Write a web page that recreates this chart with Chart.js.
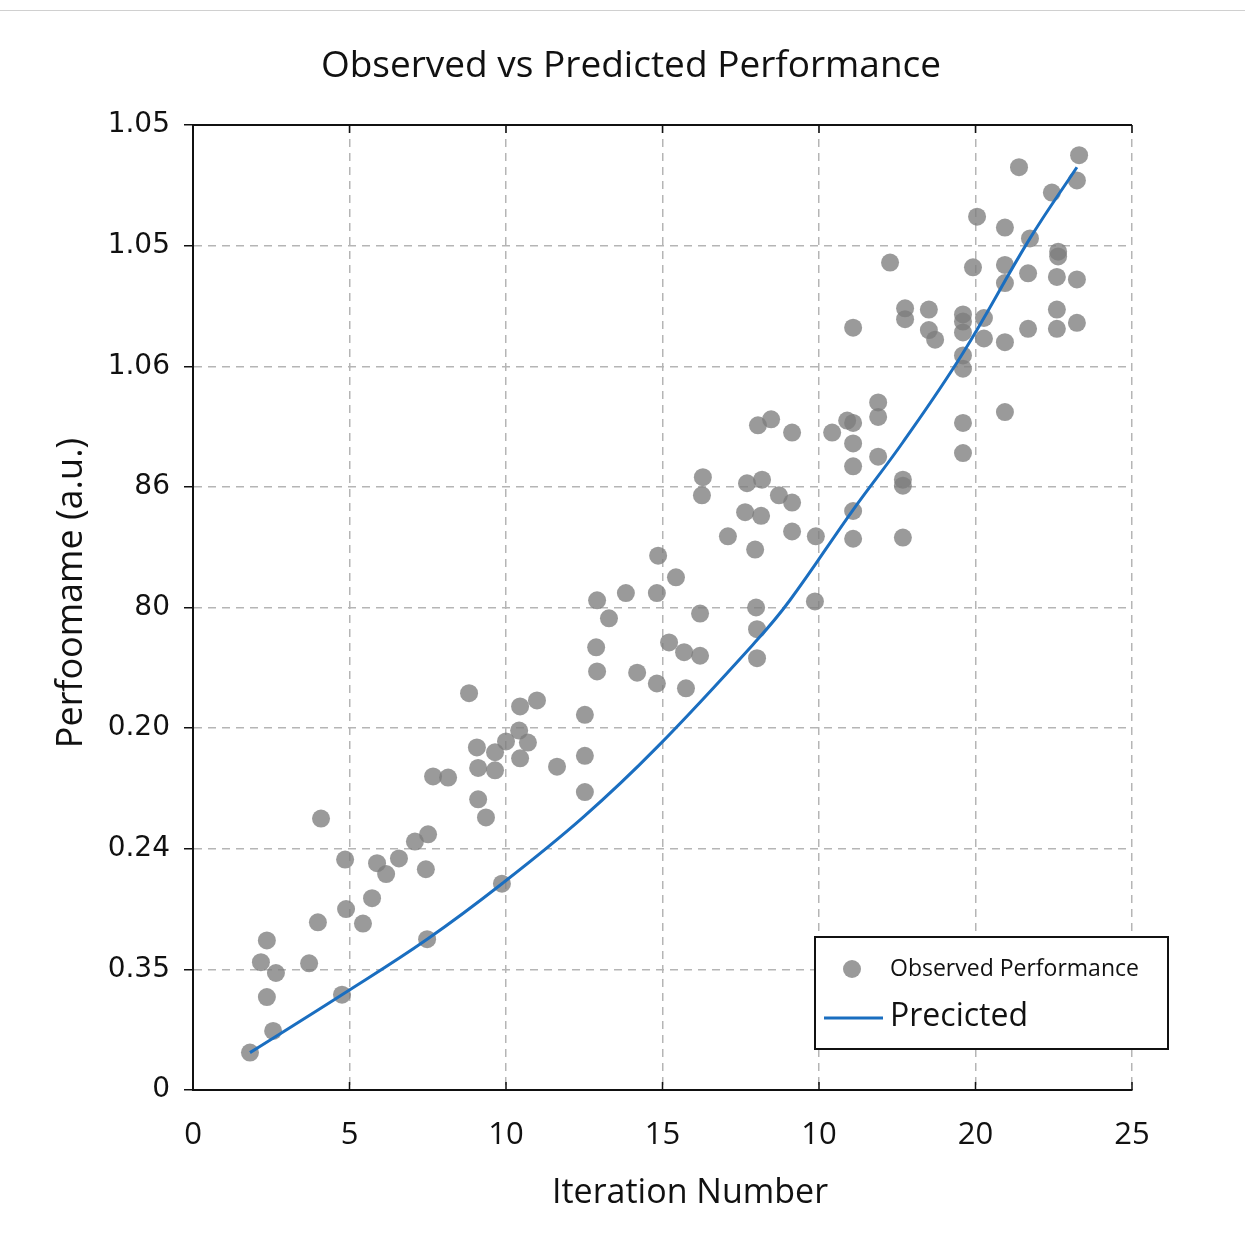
<!DOCTYPE html>
<html>
<head>
<meta charset="utf-8">
<title>Observed vs Predicted Performance</title>
<script src="https://cdn.jsdelivr.net/npm/chart.js@4"></script>
<style>
    html, body { margin: 0; padding: 0; background: #ffffff; }
    #wrap { position: relative; width: 1245px; height: 1252px; }
    #topRule { position: absolute; left: 0; right: 0; top: 10px; border-top: 1px solid #d0d0d0; }
</style>
</head>
<body>
<div id="wrap">
    <div id="topRule"></div>
    <canvas id="perf-chart"></canvas>
</div>
<script>
// Tick labels, bottom-to-top for y, left-to-right for x
const yTickLabels = ['0', '0.35', '0.24', '0.20', '80', '86', '1.06', '1.05', '1.05'];
const xTickLabels = ['0', '5', '10', '15', '10', '20', '25'];

// Observed performance (scatter)
const observedX = [
    1.82, 2.56, 2.36, 2.17, 2.65, 2.36, 3.71, 3.99, 4.76, 4.89,
    5.43, 5.72, 4.86, 5.88, 6.17, 6.58, 7.09, 7.51, 7.44, 7.48,
    4.09, 7.67, 8.15, 8.82, 9.07, 9.11, 9.65, 9.65, 9.11, 9.36,
    9.87, 10.00, 10.45, 10.99, 10.42, 10.70, 10.45, 11.63, 12.52, 12.52,
    12.52, 13.29, 12.88, 12.91, 14.19, 14.82, 15.75, 15.21, 15.69, 16.20,
    16.20, 17.99, 18.02, 18.02, 19.87, 18.05, 18.47, 19.14, 16.29, 16.26,
    17.70, 18.18, 18.72, 19.14, 17.64, 18.15, 17.09, 17.96, 19.14, 19.90,
    14.86, 15.43, 12.91, 13.83, 14.82, 28.31, 26.39, 28.24, 27.44, 25.05,
    25.94, 26.74, 22.27, 24.92, 25.94, 27.64, 27.64, 26.68, 27.60, 28.24,
    25.94, 22.75, 22.75, 23.51, 23.51, 23.71, 24.60, 24.60, 24.60, 25.27,
    25.27, 25.94, 26.68, 27.60, 27.60, 28.24, 21.09, 24.60, 24.60, 25.94,
    24.60, 24.60, 21.89, 21.89, 20.42, 20.90, 21.09, 21.09, 21.09, 21.89,
    22.68, 22.68, 21.09, 21.09, 22.68
];
const observedY = [
    0.31, 0.49, 0.77, 1.06, 0.97, 1.24, 1.05, 1.39, 0.79, 1.50,
    1.38, 1.59, 1.91, 1.88, 1.79, 1.92, 2.06, 2.12, 1.83, 1.25,
    2.25, 2.60, 2.59, 3.29, 2.84, 2.67, 2.80, 2.65, 2.41, 2.26,
    1.71, 2.89, 3.18, 3.23, 2.98, 2.88, 2.75, 2.68, 3.11, 2.77,
    2.47, 3.91, 3.67, 3.47, 3.46, 3.37, 3.33, 3.71, 3.63, 3.60,
    3.95, 4.00, 3.82, 3.58, 4.05, 5.51, 5.56, 5.45, 5.08, 4.93,
    5.03, 5.06, 4.93, 4.87, 4.79, 4.76, 4.59, 4.48, 4.63, 4.59,
    4.43, 4.25, 4.06, 4.12, 4.12, 7.75, 7.65, 7.54, 7.44, 7.24,
    7.15, 7.06, 6.86, 6.82, 6.84, 6.95, 6.91, 6.77, 6.74, 6.72,
    6.69, 6.48, 6.39, 6.47, 6.30, 6.22, 6.43, 6.37, 6.28, 6.40,
    6.23, 6.20, 6.31, 6.47, 6.31, 6.36, 6.32, 6.09, 5.98, 5.62,
    5.53, 5.28, 5.70, 5.58, 5.45, 5.55, 5.53, 5.36, 5.17, 5.25,
    5.06, 5.01, 4.80, 4.57, 4.58
];

// Predicted curve
const predictedX = [1.82, 4.76, 7.48, 9.87, 12.46, 14.82, 18.02, 19.07, 21.09, 22.68, 24.60, 26.74, 28.24];
const predictedY = [0.31, 0.79, 1.25, 1.71, 2.26, 2.84, 3.73, 4.06, 4.81, 5.37, 6.11, 7.06, 7.65];

const DOT_COLOR = 'rgba(125, 125, 125, 0.78)';
const LINE_COLOR = '#1a6ec0';
const GRID_COLOR = '#b5b5b5';

const observedPoints = observedX.map((x, i) => ({ x: x, y: observedY[i] }));
const predictedPoints = predictedX.map((x, i) => ({ x: x, y: predictedY[i] }));

// Titles, top frame edge, inner x ticks and the boxed legend
const decorations = {
    id: 'decorations',
    afterDraw(chart) {
        const ctx = chart.ctx;
        const area = chart.chartArea;
        const xScale = chart.scales.x;

        ctx.save();
        ctx.fillStyle = '#111';
        ctx.textAlign = 'center';
        ctx.textBaseline = 'middle';

        ctx.font = '37px "Open Sans"';
        ctx.fillText('Observed vs Predicted Performance', 631, 66);

        ctx.font = '34px "Open Sans"';
        ctx.fillText('Iteration Number', 690, 1193);

        ctx.save();
        ctx.translate(72, 593);
        ctx.rotate(-Math.PI / 2);
        ctx.font = '36px "Open Sans"';
        ctx.fillText('Perfoomame (a.u.)', 0, 0);
        ctx.restore();

        // top frame edge
        ctx.strokeStyle = '#111';
        ctx.lineWidth = 2;
        ctx.beginPath();
        ctx.moveTo(area.left, area.top);
        ctx.lineTo(area.right, area.top);
        ctx.stroke();

        // short ticks inside the frame, top and bottom
        ctx.lineWidth = 1.5;
        xScale.ticks.forEach(t => {
            const px = xScale.getPixelForValue(t.value);
            ctx.beginPath();
            ctx.moveTo(px, area.top);
            ctx.lineTo(px, area.top + 8);
            ctx.moveTo(px, area.bottom);
            ctx.lineTo(px, area.bottom - 8);
            ctx.stroke();
        });

        // legend
        const lx = 815, ly = 937, lw = 353, lh = 112;
        ctx.fillStyle = '#ffffff';
        ctx.fillRect(lx, ly, lw, lh);
        ctx.strokeStyle = '#111';
        ctx.lineWidth = 2;
        ctx.strokeRect(lx, ly, lw, lh);

        ctx.fillStyle = DOT_COLOR;
        ctx.beginPath();
        ctx.arc(852, 969, 9, 0, Math.PI * 2);
        ctx.fill();

        ctx.strokeStyle = LINE_COLOR;
        ctx.lineWidth = 3;
        ctx.beginPath();
        ctx.moveTo(824, 1018);
        ctx.lineTo(883, 1018);
        ctx.stroke();

        ctx.fillStyle = '#111';
        ctx.textAlign = 'left';
        ctx.font = '23px "Open Sans"';
        ctx.fillText('Observed Performance', 890, 969);
        ctx.font = '32px "Open Sans"';
        ctx.fillText('Precicted', 890, 1017);

        ctx.restore();
    }
};

const perfCtx = document.getElementById('perf-chart').getContext('2d');
const perfChart = new Chart(perfCtx, {
    type: 'scatter',
    data: {
        datasets: [
            {
                type: 'line',
                label: 'Precicted',
                data: predictedPoints,
                borderColor: LINE_COLOR,
                borderWidth: 3,
                pointRadius: 0,
                fill: false,
                tension: 0.4,
                order: 0
            },
            {
                label: 'Observed Performance',
                data: observedPoints,
                backgroundColor: DOT_COLOR,
                borderWidth: 0,
                pointRadius: 9,
                pointHoverRadius: 9,
                order: 1
            }
        ]
    },
    options: {
        responsive: true,
        maintainAspectRatio: false,
        animation: false,
        layout: {
            padding: { top: 125, right: 113, bottom: 0, left: 0 }
        },
        plugins: {
            legend: { display: false },
            title: { display: false },
            tooltip: { enabled: false }
        },
        scales: {
            x: {
                type: 'linear',
                min: 0,
                max: 30,
                afterFit: function(scale) {
                    scale.height = 162;
                },
                ticks: {
                    stepSize: 5,
                    padding: 27,
                    color: '#111',
                    font: { family: '"Open Sans"', size: 31 },
                    callback: function(value) {
                        return xTickLabels[Math.round(value / 5)];
                    }
                },
                grid: {
                    color: GRID_COLOR,
                    lineWidth: 1.5,
                    drawTicks: false
                },
                border: {
                    color: '#111',
                    width: 2,
                    dash: [8, 6]
                }
            },
            y: {
                type: 'linear',
                min: 0,
                max: 8,
                afterFit: function(scale) {
                    scale.width = 193;
                },
                ticks: {
                    stepSize: 1,
                    padding: 14,
                    color: '#111',
                    font: { family: '"DejaVu Sans"', size: 28 },
                    callback: function(value) {
                        return yTickLabels[Math.round(value)];
                    }
                },
                grid: {
                    color: GRID_COLOR,
                    lineWidth: 1.5,
                    tickLength: 9,
                    tickColor: '#111',
                    tickWidth: 1.5
                },
                border: {
                    color: '#111',
                    width: 2,
                    dash: [8, 6]
                }
            }
        }
    },
    plugins: [decorations]
});
</script>
</body>
</html>
